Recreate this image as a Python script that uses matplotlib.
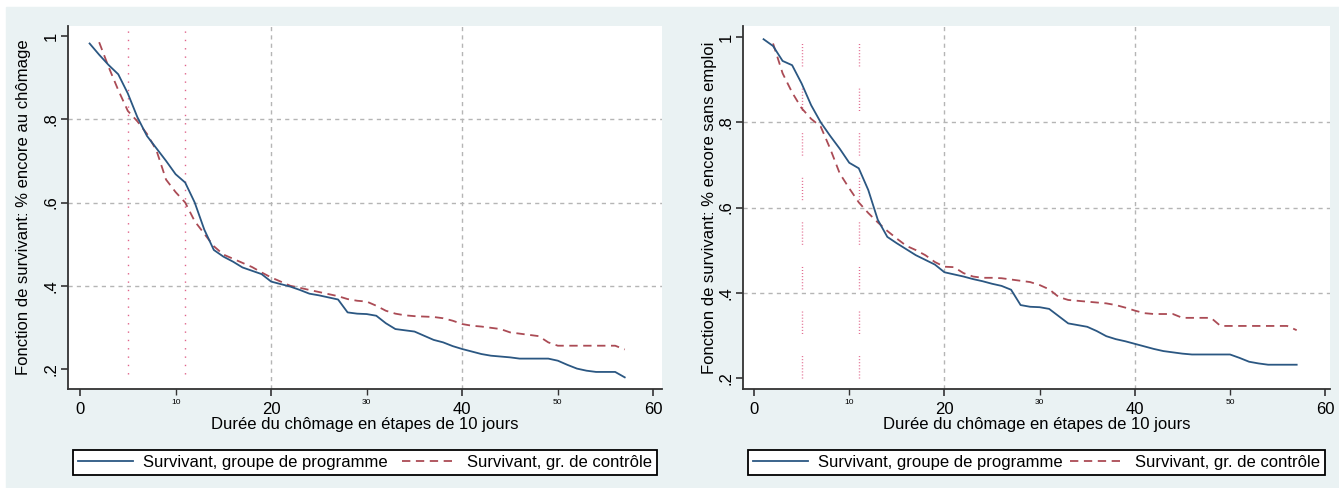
import numpy as np
import matplotlib.pyplot as plt
from matplotlib.patches import Rectangle

plt.rcParams.update({
    "font.family": ["Liberation Sans", "DejaVu Sans"],
    "font.size": 11.5,
    "lines.scale_dashes": False,
})

# durée (étapes de 10 jours)
dur_prog = np.arange(1, 58)
dur_ctrl = np.arange(2, 58)

# panneau gauche : % encore au chômage
chom_prog = [0.982, 0.955, 0.930, 0.908, 0.862, 0.805, 0.760, 0.730, 0.700, 0.668,
             0.648, 0.600, 0.535, 0.486, 0.470, 0.458, 0.444, 0.436, 0.428, 0.410,
             0.404, 0.398, 0.390, 0.381, 0.377, 0.372, 0.367, 0.336, 0.333, 0.332,
             0.328, 0.310, 0.296, 0.293, 0.290, 0.280, 0.270, 0.264, 0.255, 0.248,
             0.242, 0.236, 0.232, 0.230, 0.228, 0.225, 0.225, 0.225, 0.225, 0.220,
             0.210, 0.201, 0.196, 0.193, 0.193, 0.193, 0.180]
chom_ctrl = [0.985, 0.925, 0.870, 0.820, 0.795, 0.765, 0.725, 0.655, 0.625, 0.600,
             0.555, 0.525, 0.495, 0.475, 0.465, 0.455, 0.445, 0.432, 0.420, 0.410,
             0.400, 0.395, 0.390, 0.385, 0.380, 0.375, 0.368, 0.364, 0.362, 0.352,
             0.340, 0.333, 0.329, 0.327, 0.326, 0.325, 0.322, 0.316, 0.308, 0.304,
             0.302, 0.299, 0.296, 0.288, 0.285, 0.282, 0.279, 0.264, 0.256, 0.256,
             0.256, 0.256, 0.256, 0.256, 0.256, 0.247]

# panneau droit : % encore sans emploi
empl_prog = [0.995, 0.979, 0.944, 0.934, 0.891, 0.840, 0.800, 0.768, 0.738, 0.705,
             0.692, 0.641, 0.571, 0.531, 0.516, 0.502, 0.488, 0.477, 0.466, 0.448,
             0.443, 0.438, 0.432, 0.427, 0.421, 0.416, 0.407, 0.371, 0.367, 0.366,
             0.362, 0.345, 0.328, 0.324, 0.320, 0.310, 0.298, 0.291, 0.286, 0.280,
             0.274, 0.268, 0.263, 0.260, 0.257, 0.255, 0.255, 0.255, 0.255, 0.255,
             0.247, 0.238, 0.234, 0.231, 0.231, 0.231, 0.231]
empl_ctrl = [0.985, 0.915, 0.870, 0.833, 0.808, 0.790, 0.738, 0.680, 0.645, 0.612,
             0.587, 0.565, 0.545, 0.527, 0.510, 0.500, 0.488, 0.472, 0.461, 0.460,
             0.446, 0.438, 0.435, 0.435, 0.434, 0.431, 0.428, 0.425, 0.418, 0.408,
             0.390, 0.383, 0.381, 0.379, 0.377, 0.375, 0.371, 0.365, 0.358, 0.352,
             0.350, 0.350, 0.350, 0.341, 0.341, 0.341, 0.341, 0.322, 0.322, 0.322,
             0.322, 0.322, 0.322, 0.322, 0.322, 0.312]

ref_lines = [5, 11]
xmajor = [0, 20, 40, 60]
xminor = [10, 30, 50]
yticks = [0.2, 0.4, 0.6, 0.8, 1.0]
ytick_labels = [".2", ".4", ".6", ".8", "1"]
xlabel = "Durée du chômage en étapes de 10 jours"
leg_labels = ["Survivant, groupe de programme", "Survivant, gr. de contrôle"]

blue = "#2b5782"
red = "#ab4b55"
pink = "#e0648a"
bg = "#eaf2f3"

W, H = 1339, 488
fig = plt.figure(figsize=(W / 100, H / 100), dpi=100)
fig.patch.set_facecolor("white")
fig.patches.append(Rectangle((6 / W, 0), 1 - 6 / W, 1 - 7 / H,
                             transform=fig.transFigure, color=bg, zorder=-10))


def panel(rect, prog, ctrl, ylab, ylim, xlim, dots, vl_ymin, ylab_x):
    ax = fig.add_axes(rect)
    ax.set_facecolor("white")
    ax.set_xlim(*xlim)
    ax.set_ylim(*ylim)
    for s in ["top", "right"]:
        ax.spines[s].set_visible(False)
    for s in ["left", "bottom"]:
        ax.spines[s].set_color("#333333")
        ax.spines[s].set_linewidth(1.3)

    for v in [20, 40]:
        ax.axvline(v, color="#b5b5b5", lw=1.0, dashes=(3, 3), zorder=1)
    for v in [0.4, 0.6, 0.8]:
        ax.axhline(v, color="#b5b5b5", lw=1.0, dashes=(3, 3), zorder=1)
    for v in ref_lines:
        ax.axvline(v, ymin=vl_ymin, ymax=0.997, color=pink, lw=1.0,
                   dashes=dots, zorder=2)

    ax.plot(dur_prog, prog, color=blue, lw=1.3, zorder=4, label=leg_labels[0])
    ax.plot(dur_ctrl, ctrl, color=red, lw=1.3, dashes=(6, 4), zorder=3,
            label=leg_labels[1])

    ax.set_xticks(xmajor)
    ax.set_xticks(xminor, minor=True)
    ax.set_xticklabels([str(v) for v in xmajor])
    ax.set_xticklabels([str(v) for v in xminor], minor=True)
    ax.tick_params(axis="x", which="major", length=5, width=1.2,
                   color="#333333", labelsize=12, pad=4)
    ax.tick_params(axis="x", which="minor", length=4, width=1.0,
                   color="#333333", labelsize=6, pad=3)
    ax.set_yticks(yticks)
    ax.set_yticklabels(ytick_labels, rotation=90, va="center")
    ax.tick_params(axis="y", length=5, width=1.2, color="#333333",
                   labelsize=12, pad=2)
    ax.set_xlabel(xlabel, fontsize=12, labelpad=0)
    ax.set_ylabel(ylab, fontsize=12)
    ax.yaxis.set_label_coords(ylab_x, 0.5)

    leg = ax.legend(loc="lower left", bbox_to_anchor=(0.008, -0.237, 0.984, 0.083),
                    mode="expand", ncol=2, fontsize=12, handlelength=3.3,
                    handletextpad=0.6, borderaxespad=0, fancybox=False,
                    framealpha=1, edgecolor="black", borderpad=0.3)
    leg.get_frame().set_linewidth(1.3)
    return ax


panel([68 / W, 1 - 389 / H, 594 / W, 363 / H], chom_prog, chom_ctrl,
      "Fonction de survivant: % encore au chômage",
      (0.152, 1.024), (-1.26, 60.9), (1.0, 5.0), 0.04, -0.062)

seg = (0.7, 1.5) * 7 + (0.7, 16.0)
panel([743 / W, 1 - 389 / H, 587 / W, 363 / H], empl_prog, empl_ctrl,
      "Fonction de survivant: % encore sans emploi",
      (0.174, 1.026), (-1.16, 60.5), seg, 0.03, -0.044)

fig.savefig("out.png", dpi=100, facecolor=fig.get_facecolor())
